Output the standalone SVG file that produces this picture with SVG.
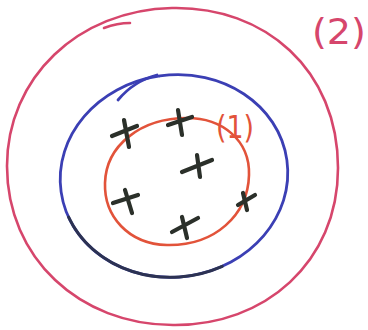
<svg xmlns="http://www.w3.org/2000/svg" width="368" height="330" viewBox="0 0 368 330">
<style>
.outer{fill:none;stroke:#d6466c;stroke-width:2.6;stroke-linecap:round}
.mid{fill:none;stroke:#3b3fb4;stroke-width:2.8;stroke-linecap:round}
.midd{fill:none;stroke:#2c3252;stroke-width:3;stroke-linecap:round}
.inner{fill:none;stroke:#e2533a;stroke-width:2.6;stroke-linecap:round}
.x{fill:none;stroke:#2b302a;stroke-width:4.2;stroke-linecap:round}
.lbl{font-family:"DejaVu Sans",sans-serif}
</style>
<rect width="368" height="330" fill="#ffffff"/>
<g id="outer-circle">
<path class="outer" d="M172,8 C265,6 338,70 338,168 C338,262 265,326 173,325 C80,325 7,258 7,166 C7,78 78,10 172,8"/>
<path class="outer" d="M104,28 C112,25 122,23 130,23"/>
</g>
<g id="middle-circle">
<g transform="rotate(-8 174 176)">
<path class="mid" d="M174,75 C237,75 288,120 288,176 C288,232 237,277 174,277 C111,277 60,232 60,176 C60,120 111,75 174,75"/>
<path class="midd" d="M209.2,272.1 A114,101 0 0 1 63.9,202.1"/>
</g>
<path class="mid" d="M118,100 C128,88 142,79 157,75"/>
</g>
<g id="inner-circle">
<path class="inner" d="M187,118 C222,118 250,140 249,175 C248,215 215,246 167,245 C128,244 104,216 105,183 C106,146 140,118 187,118"/>
</g>
<g id="crosses">
<path class="x" d="M124,120 L129,147 M112,136 L137,126"/>
<path class="x" d="M178,110 L182,135 M168,125 L192,117"/>
<path class="x" d="M197,155 L200,177 M182,172 L212,160"/>
<path class="x" d="M125,190 L132,213 M113,203 L138,195"/>
<path class="x" d="M182,217 L187,238 M172,232 L198,218"/>
<path class="x" d="M243,193 L247,210 M238,205 L255,195"/>
</g>
<g id="label-1">
<text class="lbl" x="216" y="138" font-size="32" fill="#e2533a" textLength="38" lengthAdjust="spacingAndGlyphs">(1)</text>
</g>
<g id="label-2">
<text class="lbl" x="312" y="44" font-size="36" fill="#d6466c" textLength="54" lengthAdjust="spacingAndGlyphs">(2)</text>
</g>
</svg>
